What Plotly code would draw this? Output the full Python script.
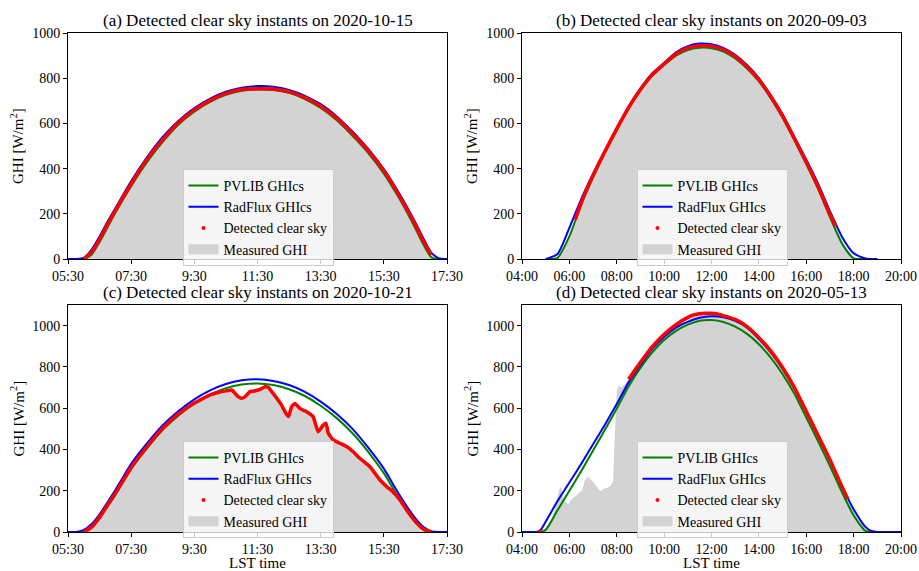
import plotly.graph_objects as go

# ---------------- data ----------------
TITLES = ["(a) Detected clear sky instants on 2020-10-15",
          "(b) Detected clear sky instants on 2020-09-03",
          "(c) Detected clear sky instants on 2020-10-21",
          "(d) Detected clear sky instants on 2020-05-13"]

TICKS_AC = [5.5, 7.5, 9.5, 11.5, 13.5, 15.5, 17.5]
TICKTEXT_AC = ["05:30", "07:30", "9:30", "11:30", "13:30", "15:30", "17:30"]
TICKS_BD = [4, 6, 8, 10, 12, 14, 16, 18, 20]
TICKTEXT_BD = ["04:00", "06:00", "08:00", "10:00", "12:00", "14:00", "16:00", "18:00", "20:00"]

# Panel (a) 2020-10-15
A_T_CS = [5.5, 5.75, 6.0, 6.25, 6.5, 6.75, 7.0, 7.5, 8.0, 8.5, 9.0, 9.5, 10.0, 10.5, 11.0, 11.5,
          12.0, 12.5, 13.0, 13.5, 14.0, 14.5, 15.0, 15.5, 16.0, 16.5, 16.75, 17.0, 17.25, 17.5]
A_RADFLUX = [0, 0, 5, 42, 100, 165, 225, 345, 450, 540, 612, 668, 710, 740, 758, 765,
             762, 748, 722, 685, 632, 565, 488, 398, 288, 162, 92, 28, 2, 0]
A_PVLIB = [0, 0, 0, 20, 75, 140, 205, 322, 428, 518, 595, 652, 695, 726, 744, 750,
           748, 735, 708, 668, 615, 546, 470, 378, 265, 135, 65, 8, 0, 0]
A_T_MEAS = A_T_CS
A_MEAS = [0, 0, 2, 30, 88, 153, 215, 333, 440, 528, 604, 660, 702, 733, 750, 753,
          752, 740, 714, 676, 623, 556, 480, 390, 277, 150, 78, 18, 0, 0]
A_DETECTED = [(5.9, 17.1)]

# Panel (b) 2020-09-03
B_T_CS = [5.0, 5.5, 6.0, 6.5, 7.0, 7.5, 8.0, 8.5, 9.0, 9.5, 10.0, 10.5, 11.0, 11.5, 12.0,
          12.5, 13.0, 13.5, 14.0, 14.5, 15.0, 15.5, 16.0, 16.5, 17.0, 17.5, 18.0, 18.5, 19.0]
B_RADFLUX = [0, 22, 138, 265, 377, 480, 580, 675, 755, 822, 868, 915, 942, 953, 950,
             934, 903, 858, 800, 725, 640, 540, 440, 333, 212, 100, 25, 2, 0]
B_PVLIB = [0, 5, 100, 240, 360, 470, 570, 665, 745, 810, 858, 900, 925, 935, 933,
           918, 888, 843, 786, 712, 625, 525, 420, 310, 185, 70, 3, 0, 0]
B_T_MEAS = [5.25, 5.5, 5.75, 6.0, 6.25, 6.5, 7.0, 7.5, 8.0, 8.5, 9.0, 9.5, 10.0, 10.5, 11.0,
            11.5, 12.0, 12.5, 13.0, 13.5, 14.0, 14.5, 15.0, 15.5, 16.0, 16.5, 17.0, 17.25,
            17.5, 17.75, 18.0, 18.25]
B_MEAS = [0, 3, 40, 110, 175, 250, 370, 476, 576, 670, 750, 816, 863, 908, 934,
          944, 942, 927, 896, 851, 794, 719, 633, 533, 430, 320, 198, 145,
          85, 38, 8, 0]
B_DETECTED = [(6.2, 17.3)]

# Panel (c) 2020-10-21
C_T_CS = A_T_CS
C_RADFLUX = [0, 0, 10, 39, 86, 144, 203, 330, 429, 517, 586, 643, 686, 717, 735, 740,
             732, 712, 679, 632, 573, 501, 410, 307, 178, 66, 25, 4, 0, 0]
C_PVLIB = [0, 0, 0, 20, 65, 122, 180, 305, 405, 495, 565, 622, 666, 697, 715, 720,
           712, 692, 659, 612, 553, 480, 390, 285, 158, 48, 12, 0, 0, 0]
C_T_MEAS = [5.5, 5.75, 6.0, 6.25, 6.5, 6.75, 7.0, 7.5, 8.0, 8.5,
            9.0, 9.5, 9.75, 10.0, 10.25, 10.5, 10.68, 10.8, 10.89, 10.99,
            11.1, 11.26, 11.4, 11.58, 11.74, 11.84, 11.95, 12.11, 12.26, 12.4,
            12.48, 12.58, 12.69, 12.84, 12.95, 13.05, 13.26, 13.42, 13.58, 13.67,
            13.74, 13.9, 14.11, 14.32, 14.53, 14.74, 15.06, 15.38, 15.59, 15.75,
            16.0, 16.25, 16.5, 16.75, 17.0, 17.25, 17.5]
C_MEAS = [0, 0, 0, 25, 72, 130, 188, 312, 413, 503,
          572, 625, 645, 664, 676, 684, 688, 670, 656, 648,
          655, 680, 683, 691, 704, 701, 680, 648, 615, 575,
          559, 607, 623, 599, 590, 583, 559, 486, 518, 527,
          478, 446, 430, 414, 389, 357, 316, 252, 220, 200,
          158, 100, 50, 14, 0, 0, 0]
C_DETECTED = [(5.9, 17.1)]

# Panel (d) 2020-05-13
D_T_CS = [4.0, 4.5, 4.75, 5.0, 5.5, 6.0, 6.5, 7.0, 7.5, 8.0, 8.5, 9.0, 9.5, 10.0, 10.5, 11.0,
          11.5, 12.0, 12.5, 13.0, 13.5, 14.0, 14.5, 15.0, 15.5, 16.0, 16.5, 17.0, 17.5, 18.0,
          18.5, 18.75, 19.0, 20.0]
D_RADFLUX = [0, 0, 5, 50, 150, 240, 330, 425, 520, 620, 725, 810, 888, 945, 990, 1018,
             1038, 1045, 1040, 1023, 990, 935, 870, 790, 695, 580, 465, 350, 225, 110,
             25, 5, 0, 0]
D_PVLIB = [0, 0, 0, 10, 105, 200, 295, 395, 495, 598, 705, 795, 870, 930, 975, 1005,
           1024, 1027, 1018, 995, 960, 910, 845, 765, 670, 555, 440, 320, 195, 80,
           5, 0, 0, 0]
D_T_MEAS = [4.0, 4.7, 4.75, 4.8, 5.0, 5.25, 5.45, 5.55, 5.65, 5.72,
            5.8, 5.95, 6.1, 6.25, 6.4, 6.55, 6.65, 6.8, 6.9, 7.0,
            7.15, 7.3, 7.45, 7.6, 7.75, 7.85, 7.9, 7.95, 8.0, 8.07,
            8.2, 8.3, 8.5, 9.0, 9.5, 10.0, 10.5, 11.0, 11.25, 11.5,
            11.75, 12.0, 12.25, 12.5, 13.0, 13.5, 14.0, 14.5, 15.0, 15.5,
            16.0, 16.5, 17.0, 17.5, 17.75, 18.0, 18.5, 18.75, 19.0, 20.0]
D_MEAS = [0, 0, 4, 8, 20, 60, 140, 200, 222, 175,
          150, 135, 160, 172, 190, 205, 250, 268, 255, 245,
          222, 198, 210, 215, 225, 250, 420, 560, 680, 710,
          700, 712, 740, 822, 898, 958, 1005, 1040, 1052, 1058,
          1060, 1060, 1056, 1048, 1030, 995, 942, 878, 797, 700,
          585, 468, 350, 222, 160, 108, 25, 3, 0, 0]
D_DETECTED = [(4.68, 4.82), (8.45, 17.8)]

# ---------------- figure ----------------
W, H = 919, 571
FONT = "Liberation Serif, Times New Roman, Times, serif"
GRAY = "#d3d3d3"

# pixel boxes of the four axes: (left, right, top, bottom)
BOXES = [(68, 447, 33, 259), (522, 901, 33, 259), (68, 447, 305, 532), (522, 901, 305, 532)]

panels = [
    dict(t_cs=A_T_CS, pv=A_PVLIB, rf=A_RADFLUX, t_m=A_T_MEAS, m=A_MEAS, det=A_DETECTED,
         xr=[5.5, 17.5], yr=[0, 1000], tv=TICKS_AC, tt=TICKTEXT_AC),
    dict(t_cs=B_T_CS, pv=B_PVLIB, rf=B_RADFLUX, t_m=B_T_MEAS, m=B_MEAS, det=B_DETECTED,
         xr=[4, 20], yr=[0, 1000], tv=TICKS_BD, tt=TICKTEXT_BD),
    dict(t_cs=C_T_CS, pv=C_PVLIB, rf=C_RADFLUX, t_m=C_T_MEAS, m=C_MEAS, det=C_DETECTED,
         xr=[5.5, 17.5], yr=[0, 1100], tv=TICKS_AC, tt=TICKTEXT_AC),
    dict(t_cs=D_T_CS, pv=D_PVLIB, rf=D_RADFLUX, t_m=D_T_MEAS, m=D_MEAS, det=D_DETECTED,
         xr=[4, 20], yr=[0, 1100], tv=TICKS_BD, tt=TICKTEXT_BD),
]


def detected_only(t, v, windows):
    return [val if any(a <= ti <= b for a, b in windows) else None for ti, val in zip(t, v)]


fig = go.Figure()
layout = dict(width=W, height=H, autosize=False,
              margin=dict(l=0, r=0, t=0, b=0, autoexpand=False),
              paper_bgcolor="white", plot_bgcolor="white", hovermode=False,
              font=dict(family=FONT, size=14, color="black"), annotations=[])

for i, (p, box) in enumerate(zip(panels, BOXES), start=1):
    sfx = "" if i == 1 else str(i)
    xa, ya, lg = "x" + sfx, "y" + sfx, "legend" + sfx
    l, r, t, b = box
    common = dict(xaxis=xa, yaxis=ya, legend=lg)

    # measured GHI (area) – legend entry drawn by a thick gray line swatch
    fig.add_trace(go.Scatter(x=p["t_m"], y=p["m"], mode="lines", name="Measured GHI",
                             line=dict(width=0, color=GRAY), fill="tozeroy", fillcolor=GRAY,
                             showlegend=False, **common))
    fig.add_trace(go.Scatter(x=[None], y=[None], mode="lines", name="Measured GHI",
                             line=dict(width=10, color=GRAY), legendrank=4, **common))
    fig.add_trace(go.Scatter(x=p["t_cs"], y=p["pv"], mode="lines", name="PVLIB GHIcs",
                             line=dict(color="#008000", width=2, shape="spline", smoothing=0.6),
                             legendrank=1, **common))
    fig.add_trace(go.Scatter(x=p["t_cs"], y=p["rf"], mode="lines", name="RadFlux GHIcs",
                             line=dict(color="#0000ff", width=2, shape="spline", smoothing=0.6),
                             legendrank=2, **common))
    fig.add_trace(go.Scatter(x=p["t_m"], y=detected_only(p["t_m"], p["m"], p["det"]),
                             mode="lines", name="Detected clear sky", showlegend=False,
                             line=dict(color="#ff0000", width=3.5, shape="spline", smoothing=0.4),
                             connectgaps=False, **common))
    fig.add_trace(go.Scatter(x=[None], y=[None], mode="markers", name="Detected clear sky",
                             marker=dict(color="#ff0000", size=4), legendrank=3, **common))

    axis_style = dict(showgrid=False, zeroline=False, showline=True, mirror=True,
                      linecolor="black", linewidth=1, ticks="outside", ticklen=4,
                      tickcolor="black", tickfont=dict(size=14), automargin=False)
    layout["xaxis" + sfx] = dict(domain=[l / W, r / W], range=p["xr"], anchor=ya,
                                 tickvals=p["tv"], ticktext=p["tt"], **axis_style)
    layout["yaxis" + sfx] = dict(domain=[1 - b / H, 1 - t / H], range=p["yr"], anchor=xa,
                                 tickvals=list(range(0, p["yr"][1] + 1, 200)), **axis_style)
    layout[lg] = dict(x=(l + 114.5) / W, y=1 - (t + 136) / H, xanchor="left", yanchor="top",
                      bgcolor="rgba(255,255,255,0.78)", bordercolor="#cccccc", borderwidth=1,
                      font=dict(size=14), tracegroupgap=0, itemwidth=30)

    # subplot title
    layout["annotations"].append(dict(text=TITLES[i - 1], x=(l + r) / 2 / W, y=1 - (t - 13) / H,
                                      xref="paper", yref="paper", showarrow=False,
                                      font=dict(size=17), xanchor="center", yanchor="middle"))
    # y label
    layout["annotations"].append(dict(text="GHI [W/m<sup>2</sup>]", x=(l - 51) / W,
                                      y=1 - (t + b) / 2 / H, xref="paper", yref="paper",
                                      showarrow=False, textangle=-90, font=dict(size=15),
                                      xanchor="center", yanchor="middle"))
    if i >= 3:
        layout["annotations"].append(dict(text="LST time", x=(l + r) / 2 / W, y=1 - 563 / H,
                                          xref="paper", yref="paper", showarrow=False,
                                          font=dict(size=15), xanchor="center",
                                          yanchor="middle"))

fig.update_layout(**layout)
fig.write_html("out.html", config={"displayModeBar": False, "staticPlot": True},
               post_script="document.body.style.margin='0px';document.body.style.padding='0px';")
